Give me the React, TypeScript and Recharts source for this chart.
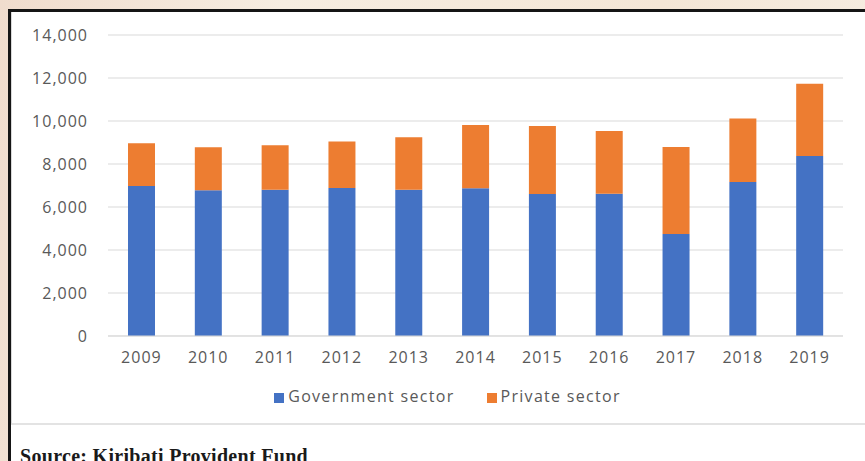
import { BarChart, Bar, XAxis, YAxis, CartesianGrid, Legend } from 'recharts';

const years = ['2009', '2010', '2011', '2012', '2013', '2014', '2015', '2016', '2017', '2018', '2019'];
const government = [6980, 6780, 6800, 6880, 6800, 6870, 6600, 6620, 4740, 7160, 8370];
const privateSector = [1980, 2000, 2070, 2170, 2440, 2940, 3170, 2910, 4050, 2960, 3360];
const yTicks = [0, 2000, 4000, 6000, 8000, 10000, 12000, 14000];

const data = years.map((year, i) => ({
  year,
  government: government[i],
  private: privateSector[i],
}));

const tickStyle = { fill: '#595959', fontSize: 16, fontFamily: 'Open Sans', letterSpacing: 1 };

export default function App() {
  return (
    <div
      style={{
        position: 'fixed',
        left: 0,
        top: 0,
        width: 865,
        height: 461,
        overflow: 'hidden',
        background: 'linear-gradient(100deg, #f0dccd 0%, #f6ede1 30%, #f4e6d6 70%, #f6eee3 100%)',
      }}
    >
      <div
        style={{
          position: 'absolute',
          left: 8,
          top: 9,
          width: 880,
          height: 480,
          border: '3px solid #151515',
          background: '#fff',
        }}
      >
        <div
          style={{
            position: 'absolute',
            left: 0,
            top: 0,
            width: 880,
            height: 411,
            borderLeft: '1px solid #d9d9d9',
            borderBottom: '2px solid #e3e3e3',
          }}
        />
        <div style={{ position: 'absolute', left: 1, top: 0 }}>
          <BarChart width={840} height={411} data={data} margin={{ top: 23, right: 9, left: 0, bottom: 14 }}>
            <CartesianGrid vertical={false} stroke="#d9d9d9" />
            <XAxis
              dataKey="year"
              height={49}
              tickSize={0}
              tickMargin={16}
              axisLine={{ stroke: '#d9d9d9' }}
              tick={tickStyle}
            />
            <YAxis
              width={96}
              domain={[0, 14000]}
              ticks={yTicks}
              tickSize={0}
              tickMargin={20}
              axisLine={false}
              tickFormatter={(v: number) => v.toLocaleString('en-US')}
              tick={tickStyle}
            />
            <Legend
              verticalAlign="bottom"
              align="center"
              iconType="square"
              iconSize={10}
              wrapperStyle={{ height: 24, left: 36, fontFamily: 'Open Sans', fontSize: 16, letterSpacing: 1.3 }}
              formatter={(value: string) => (
                <span style={{ color: '#595959', marginRight: 22 }}>{value}</span>
              )}
            />
            <Bar dataKey="government" name="Government sector" stackId="a" fill="#4472C4" barSize={27} isAnimationActive={false} />
            <Bar dataKey="private" name="Private sector" stackId="a" fill="#ED7D31" barSize={27} isAnimationActive={false} />
          </BarChart>
        </div>
        <div
          style={{
            position: 'absolute',
            left: 9,
            top: 434,
            fontFamily: 'Liberation Serif',
            fontSize: 20,
            lineHeight: '20px',
            letterSpacing: 0.3,
            fontWeight: 600,
            color: '#1a1a1a',
            whiteSpace: 'nowrap',
          }}
        >
          Source: Kiribati Provident Fund
        </div>
      </div>
    </div>
  );
}
